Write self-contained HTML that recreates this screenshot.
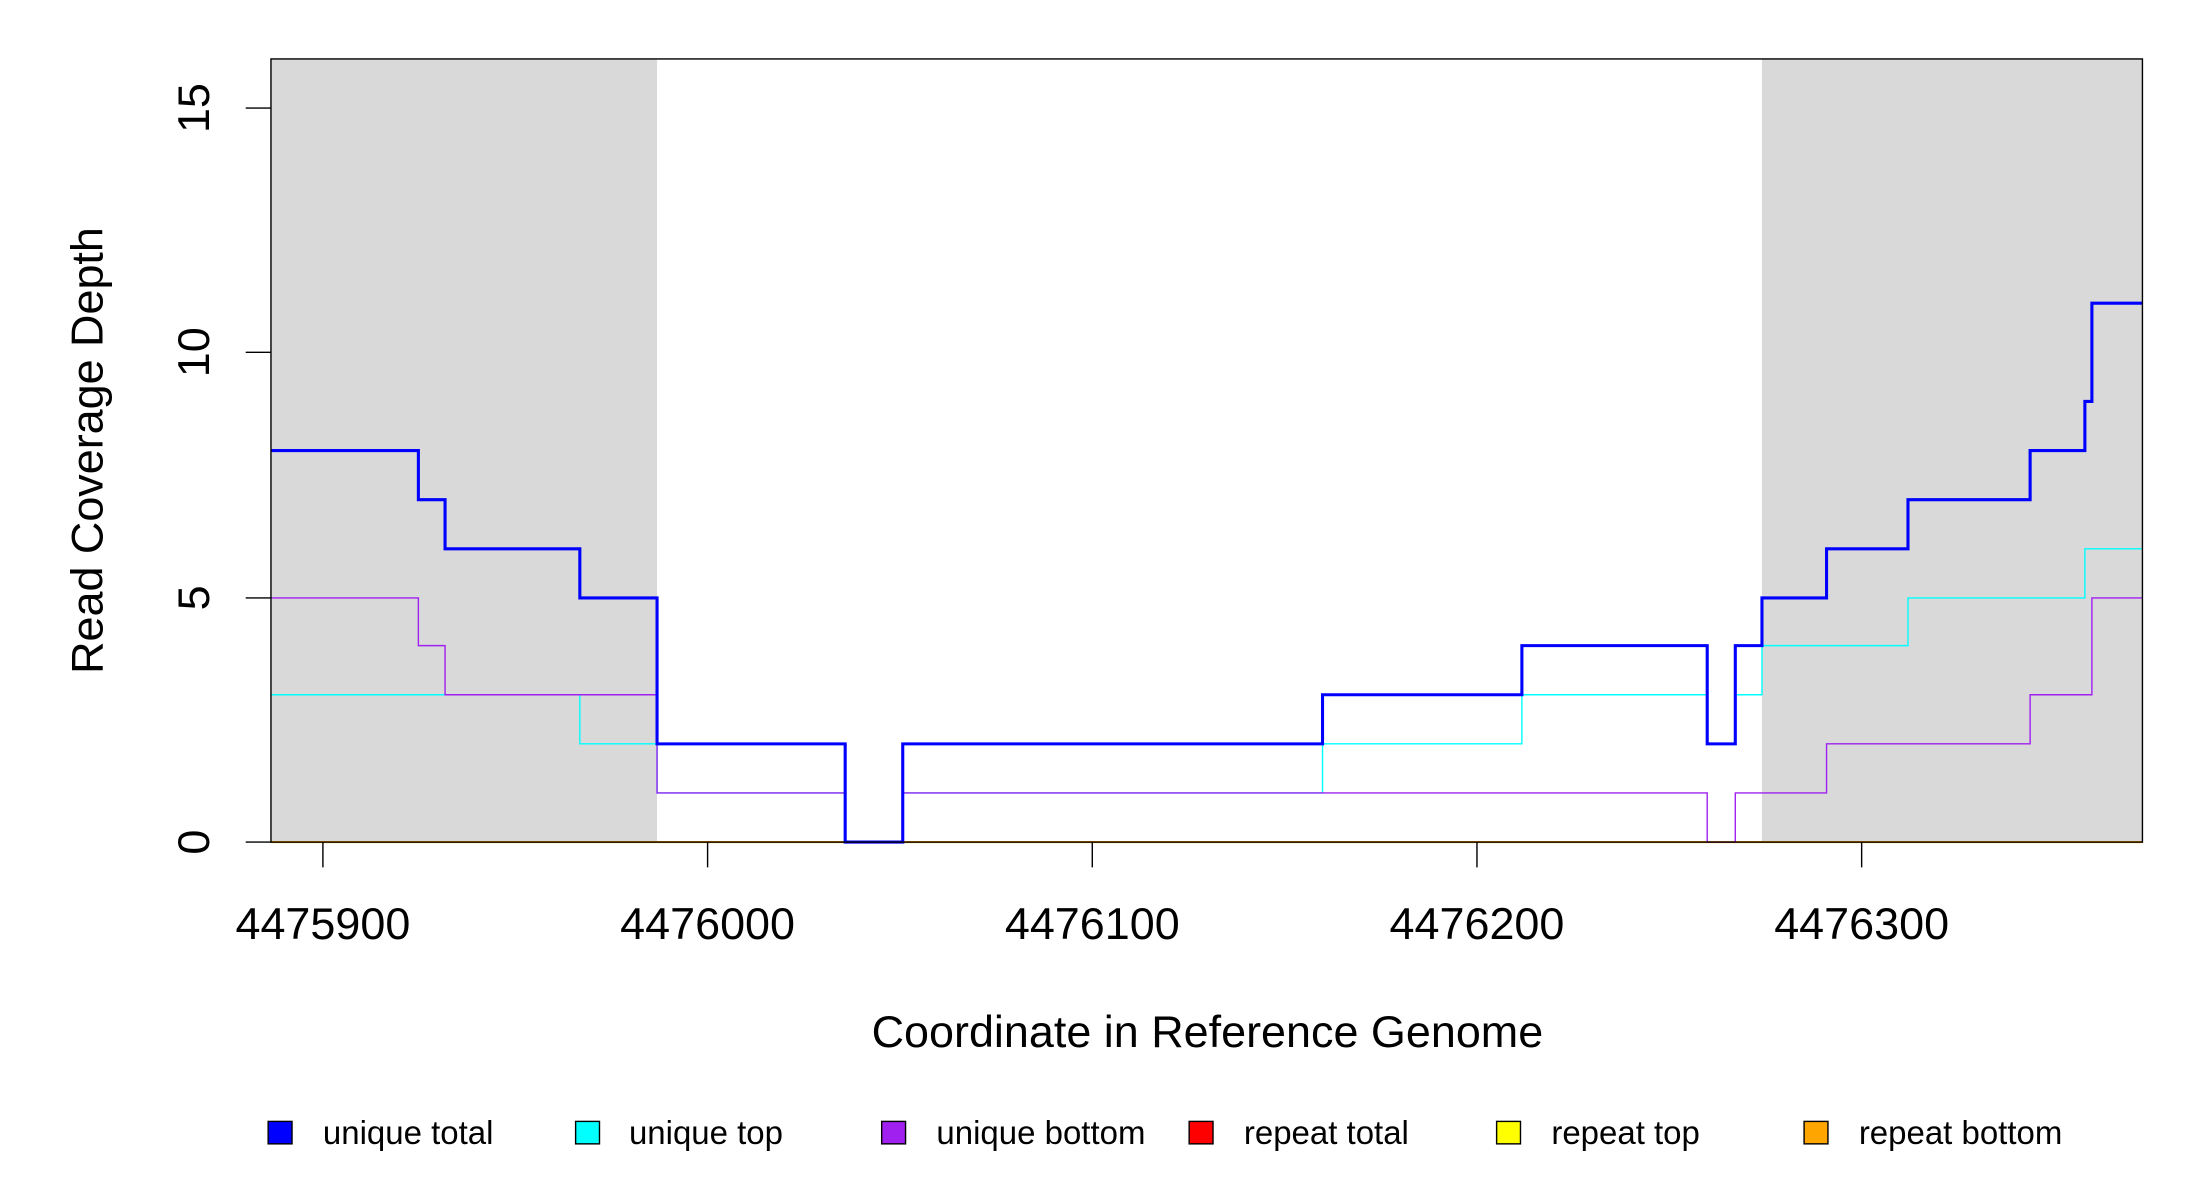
<!DOCTYPE html>
<html><head><style>html,body{margin:0;padding:0;background:#fff}svg{display:block}</style></head>
<body>
<svg width="2200" height="1200" viewBox="0 0 1567 855" preserveAspectRatio="none" xmlns="http://www.w3.org/2000/svg" font-family="Liberation Sans, sans-serif">
<rect x="193" y="42" width="275" height="558" fill="#d9d9d9"/>
<rect x="1255" y="42" width="271" height="558" fill="#d9d9d9"/>
<g fill="none">
<path d="M193,600H1526" stroke="#ffa500" stroke-width="1.5"/>
<path d="M193,495H413V530H468V565H602V600H643V565H942V530H1084V495H1216V530H1236V495H1255V460H1359V426H1485V391H1526" stroke="#00ffff" stroke-width="1"/>
<path d="M193,426H298V460H317V495H468V565H602V600H643V565H1216V600H1236V565H1301V530H1446V495H1490V426H1526" stroke="#a020f0" stroke-width="1"/>
<path d="M193,321H298V356H317V391H413V426H468V530H602V600H643V530H942V495H1084V460H1216V530H1236V460H1255V426H1301V391H1359V356H1446V321H1485V286H1490V216H1526" stroke="#0000ff" stroke-width="2.2"/>
</g>
<rect x="193" y="42" width="1333" height="558" fill="none" stroke="#000" stroke-width="1"/>
<g stroke="#000" stroke-width="1">
<path d="M175,600H193M175,426H193M175,251H193M175,77H193"/>
<path d="M230,600V618M504,600V618M778,600V618M1052,600V618M1326,600V618"/>
</g>
<g font-size="32" text-anchor="middle" fill="#000">
<text x="230" y="669">4475900</text>
<text x="504" y="669">4476000</text>
<text x="778" y="669">4476100</text>
<text x="1052" y="669">4476200</text>
<text x="1326" y="669">4476300</text>
<text transform="translate(149,600) rotate(-90)">0</text>
<text transform="translate(149,426) rotate(-90)">5</text>
<text transform="translate(149,251) rotate(-90)">10</text>
<text transform="translate(149,77) rotate(-90)">15</text>
<text x="860" y="746">Coordinate in Reference Genome</text>
<text transform="translate(73,321) rotate(-90)">Read Coverage Depth</text>
</g>
<g stroke="#000" stroke-width="1">
<rect x="191" y="799" width="17" height="16" fill="#0000ff"/>
<rect x="410" y="799" width="17" height="16" fill="#00ffff"/>
<rect x="628" y="799" width="17" height="16" fill="#a020f0"/>
<rect x="847" y="799" width="17" height="16" fill="#ff0000"/>
<rect x="1066" y="799" width="17" height="16" fill="#ffff00"/>
<rect x="1285" y="799" width="17" height="16" fill="#ffa500"/>
</g>
<g font-size="23.5" fill="#000">
<text x="230" y="815">unique total</text>
<text x="448" y="815">unique top</text>
<text x="667" y="815">unique bottom</text>
<text x="886" y="815">repeat total</text>
<text x="1105" y="815">repeat top</text>
<text x="1324" y="815">repeat bottom</text>
</g>
</svg>
</body></html>
